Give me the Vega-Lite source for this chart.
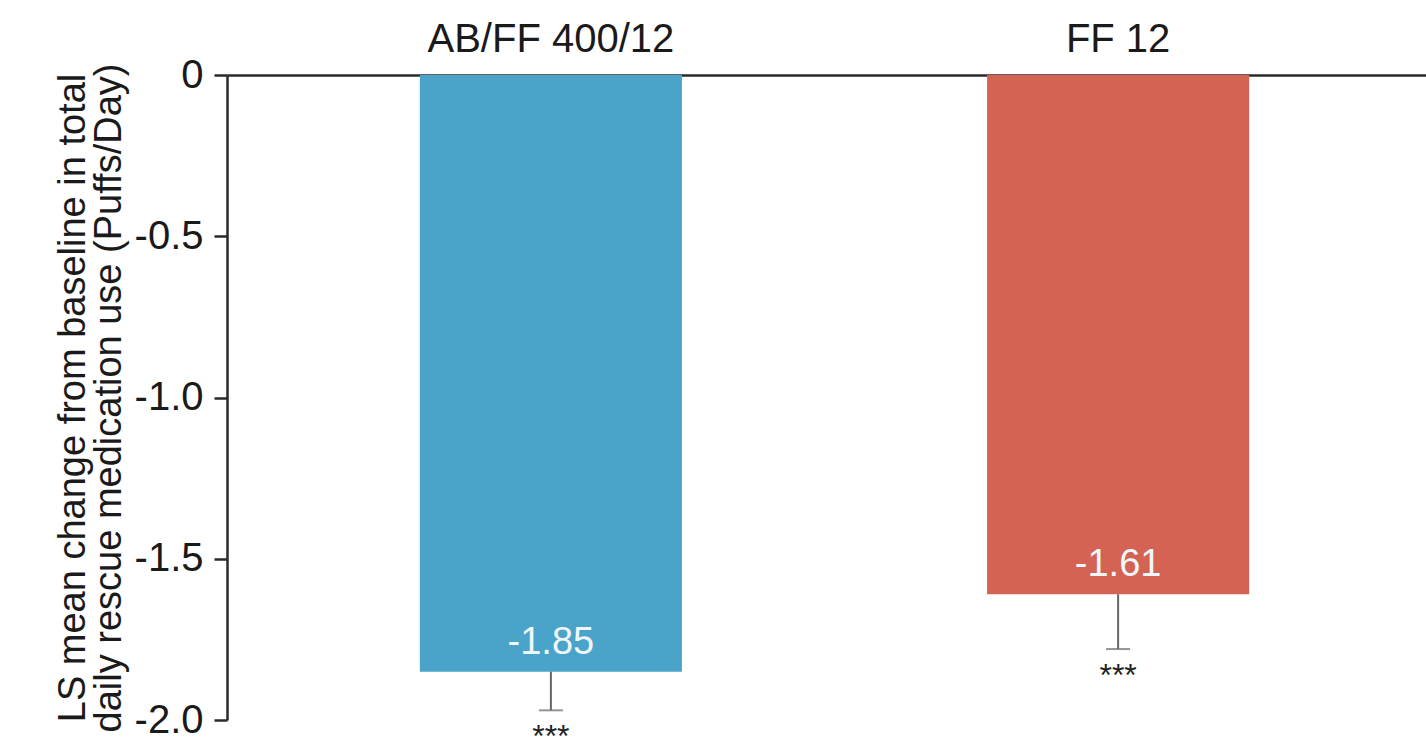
{
  "$schema": "https://vega.github.io/schema/vega-lite/v6.json",
  "autosize": {"type": "none"},
  "width": 1199,
  "height": 645,
  "padding": {"left": 227, "top": 75, "right": 0, "bottom": 36},
  "background": "white",
  "config": {
    "view": {"stroke": null},
    "font": "Liberation Sans"
  },
  "data": {
    "values": [
      {"group": "AB/FF 400/12", "value": -1.85, "lower": -1.97, "label": "-1.85", "sig": "***"},
      {"group": "FF 12", "value": -1.61, "lower": -1.78, "label": "-1.61", "sig": "***"}
    ]
  },
  "encoding": {
    "x": {
      "field": "group",
      "type": "nominal",
      "sort": null,
      "scale": {"range": [0, 1215], "paddingInner": 0.538, "paddingOuter": 0.34},
      "axis": {
        "orient": "top",
        "title": null,
        "ticks": false,
        "domain": true,
        "domainColor": "#2a2a2a",
        "domainWidth": 2.5,
        "labelAngle": 0,
        "labelFontSize": 40,
        "labelLimit": 0,
        "labelColor": "#1a1a1a",
        "labelPadding": 16
      }
    }
  },
  "layer": [
    {
      "mark": {"type": "bar", "clip": false},
      "encoding": {
        "y": {
          "field": "value",
          "type": "quantitative",
          "scale": {"domain": [-2, 0], "nice": false, "zero": false},
          "axis": {
            "values": [0, -0.5, -1, -1.5, -2],
            "labelExpr": "datum.value == 0 ? '0' : replace(format(datum.value, '.1f'), '\u2212', '-')",
            "grid": false,
            "domainColor": "#2a2a2a",
            "domainWidth": 2.5,
            "tickColor": "#2a2a2a",
            "tickWidth": 2.5,
            "tickSize": 13,
            "labelFontSize": 40,
            "labelColor": "#1a1a1a",
            "labelPadding": 11,
            "title": ["LS mean change from baseline in total", "daily rescue medication use (Puffs/Day)"],
            "titleFontSize": 38,
            "titleFontWeight": "normal",
            "titleColor": "#1a1a1a",
            "titleLineHeight": 36,
            "titlePadding": 6
          }
        },
        "color": {
          "field": "group",
          "type": "nominal",
          "scale": {"domain": ["AB/FF 400/12", "FF 12"], "range": ["#4AA3C8", "#D46353"]},
          "legend": null
        }
      }
    },
    {
      "mark": {"type": "rule", "color": "#666666", "strokeWidth": 2},
      "encoding": {
        "y": {"field": "value", "type": "quantitative"},
        "y2": {"field": "lower"}
      }
    },
    {
      "mark": {"type": "tick", "color": "#666666", "thickness": 2, "size": 24, "orient": "horizontal"},
      "encoding": {
        "y": {"field": "lower", "type": "quantitative"}
      }
    },
    {
      "mark": {"type": "text", "color": "#F0F7FA", "fontSize": 38, "baseline": "bottom", "dy": -10},
      "encoding": {
        "y": {"field": "value", "type": "quantitative"},
        "text": {"field": "label", "type": "nominal"}
      }
    },
    {
      "mark": {"type": "text", "color": "#222222", "fontSize": 32, "baseline": "top", "dy": 12, "clip": false},
      "encoding": {
        "y": {"field": "lower", "type": "quantitative"},
        "text": {"field": "sig", "type": "nominal"}
      }
    }
  ]
}
